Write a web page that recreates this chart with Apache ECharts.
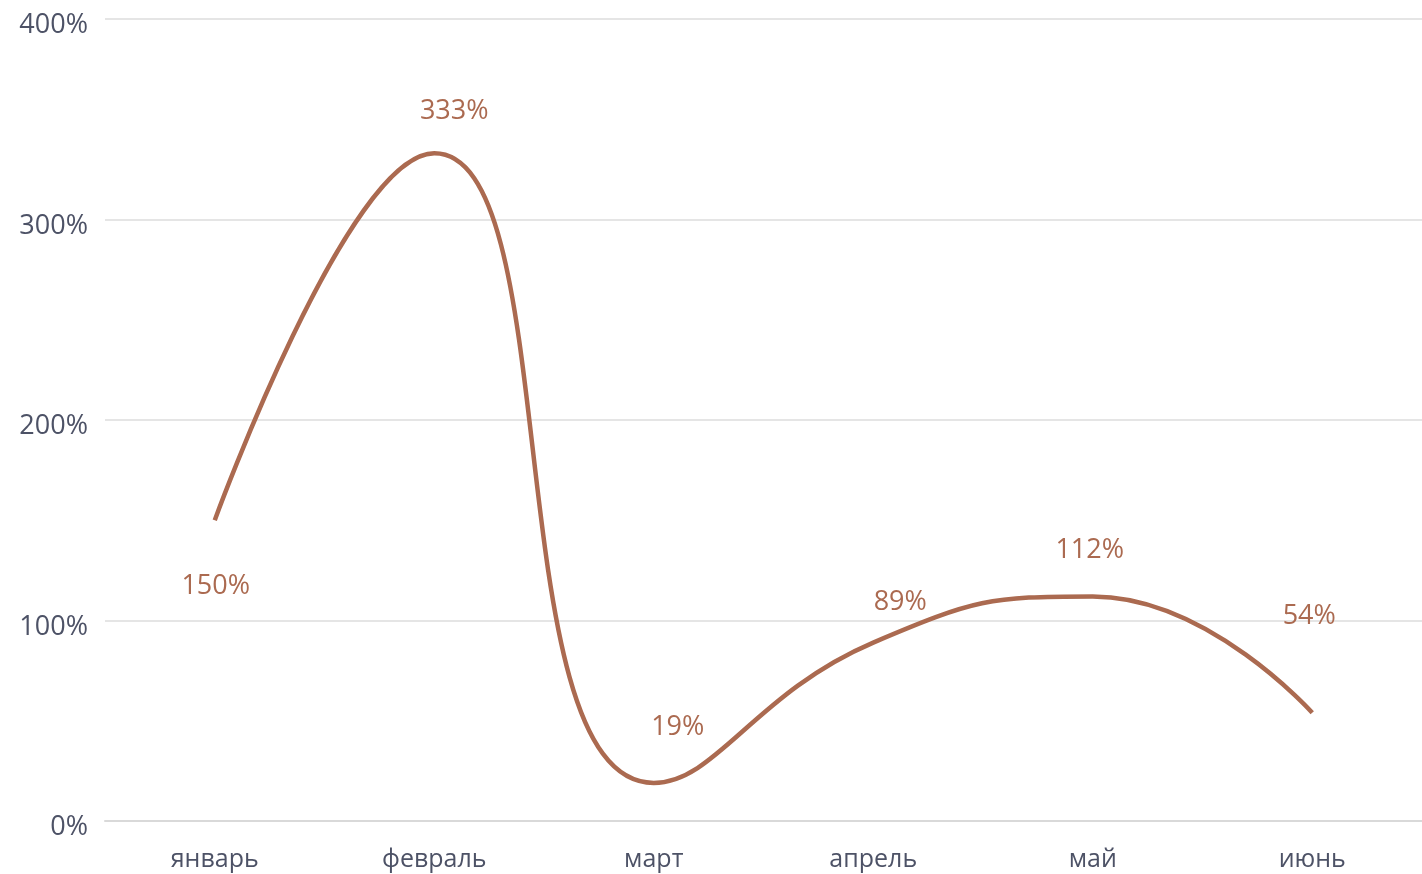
<!DOCTYPE html>
<html>
<head>
<meta charset="utf-8">
<script src="https://cdn.jsdelivr.net/npm/echarts@6/dist/echarts.min.js"></script>
<style>
html,body{margin:0;padding:0;background:#fff;}
#chart{width:1422px;height:874px;}
</style>
</head>
<body>
<div id="chart"></div>
<script>
const categories = ['январь', 'февраль', 'март', 'апрель', 'май', 'июнь'];
const values = [150, 333, 19, 89, 112, 54];
const yTicks = [0, 100, 200, 300, 400];

// label nudges (styling only)
const labelNudge = [[1, 66], [20, -42], [24, -56], [27, -40], [-3, -46], [-3, -96]];

const lineColor = '#ab6a50';
const textColor = '#4d5266';
const fontFamily = '"Open Sans", "Noto Sans", sans-serif';

const chart = echarts.init(document.getElementById('chart'));
chart.setOption({
  animation: false,
  backgroundColor: '#ffffff',
  grid: { left: 105, right: 0, top: 19, bottom: 53 },
  xAxis: {
    type: 'category',
    data: categories,
    boundaryGap: true,
    axisLine: { show: true, lineStyle: { color: '#d9d9d9', width: 2 } },
    axisTick: { show: false },
    axisLabel: { color: textColor, fontFamily: fontFamily, fontSize: 25, margin: 26 }
  },
  yAxis: {
    type: 'value',
    min: yTicks[0],
    max: yTicks[yTicks.length - 1],
    interval: 100,
    axisLine: { show: false },
    axisTick: { show: false },
    splitLine: { lineStyle: { color: '#dddddd', width: 1.5 } },
    axisLabel: {
      color: textColor, fontFamily: fontFamily, fontSize: 27, margin: 17,
      verticalAlign: 'top', lineHeight: 13,
      formatter: v => v + '%'
    }
  },
  series: [{
    type: 'line',
    smooth: 0.5,
    data: values.map((v, i) => ({
      value: v,
      label: { offset: labelNudge[i] }
    })),
    symbol: 'circle',
    symbolSize: 1,
    showSymbol: true,
    itemStyle: { color: 'rgba(0,0,0,0)' },
    lineStyle: { color: lineColor, width: 4.5 },
    label: {
      show: true,
      position: 'inside',
      color: lineColor,
      fontFamily: fontFamily,
      fontSize: 27,
      formatter: p => p.value + '%'
    },
    emphasis: { disabled: true }
  }]
});
</script>
</body>
</html>
